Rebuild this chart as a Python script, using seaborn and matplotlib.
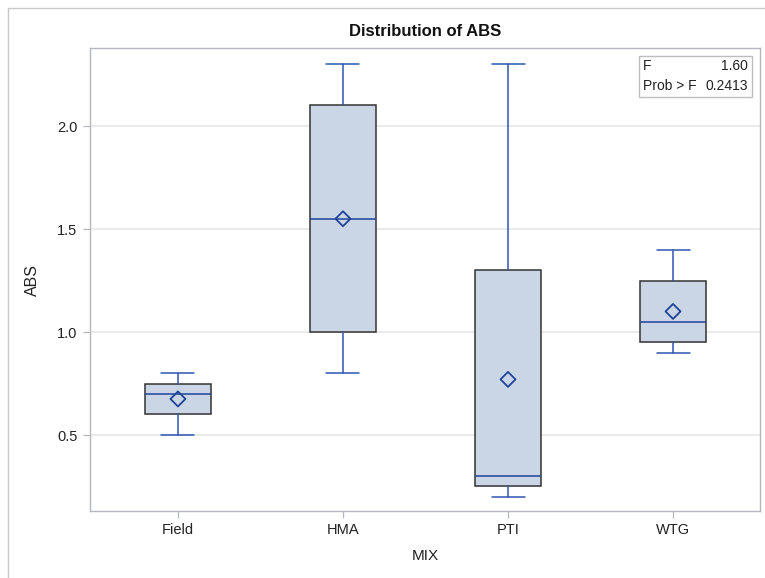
import matplotlib
matplotlib.use("Agg")
import matplotlib.pyplot as plt
from matplotlib.patches import Rectangle
from matplotlib.lines import Line2D
import seaborn as sns
import pandas as pd

# Summary statistics of ABS for each mixture
mix = ["Field", "HMA", "PTI", "WTG"]
abs_min = [0.50, 0.80, 0.20, 0.90]
abs_q1 = [0.60, 1.00, 0.25, 0.95]
abs_median = [0.70, 1.55, 0.30, 1.05]
abs_q3 = [0.75, 2.10, 1.30, 1.25]
abs_max = [0.80, 2.30, 2.30, 1.40]
abs_mean = [0.675, 1.55, 0.77, 1.10]

f_value = "1.60"
p_value = "0.2413"

sns.set_theme(style="whitegrid")
plt.rcParams["font.family"] = ["Liberation Sans", "DejaVu Sans"]

fill = "#CAD5E5"
edge = "#333333"
blue = "#2E56B0"
dark_blue = "#1F4399"
frame = "#B4B8BE"

fig = plt.figure(figsize=(7.65, 5.78), dpi=100)
ax = fig.add_axes([90 / 765, 67 / 578, 670 / 765, 463 / 578])

stats = [
    dict(label=m, whislo=lo, q1=q1, med=md, q3=q3, whishi=hi, fliers=[])
    for m, lo, q1, md, q3, hi in zip(mix, abs_min, abs_q1, abs_median, abs_q3, abs_max)
]
ax.bxp(
    stats,
    positions=range(len(mix)),
    widths=0.4,
    capwidths=0.2,
    showfliers=False,
    patch_artist=True,
    boxprops=dict(facecolor=fill, edgecolor=edge, linewidth=1.1),
    whiskerprops=dict(color=blue, linewidth=1.1),
    capprops=dict(color=blue, linewidth=1.1),
    medianprops=dict(color=dark_blue, linewidth=1.1),
    zorder=3,
)

means = pd.DataFrame({"MIX": mix, "ABS": abs_mean})
sns.scatterplot(
    data=means, x="MIX", y="ABS", ax=ax, marker="D", s=58,
    facecolor="none", edgecolor=dark_blue, linewidth=1.3, zorder=5,
)

ax.set_xlim(-0.533, 3.527)
ax.set_ylim(0.131, 2.379)
ax.set_xticks(range(len(mix)))
ax.set_xticklabels(mix)
ax.set_yticks([0.5, 1.0, 1.5, 2.0])
ax.set_yticklabels(["0.5", "1.0", "1.5", "2.0"])

ax.grid(False, axis="x")
ax.grid(True, axis="y", color="#E6E6E6", linewidth=1.2)
for s in ax.spines.values():
    s.set_visible(True)
    s.set_color(frame)
    s.set_linewidth(1.0)
ax.tick_params(axis="both", which="major", length=5, width=0.9, color=frame,
               labelsize=10.5, labelcolor="#222222", pad=4, left=True, bottom=True)

ax.set_xlabel("MIX", fontsize=11, color="#222222")
ax.set_ylabel("ABS", fontsize=11.5, color="#222222")
ax.xaxis.set_label_coords(0.5, -(556 - 511) / 463)
ax.xaxis.label.set_va("center")
ax.yaxis.set_label_coords((32 - 90) / 670, 0.5)
ax.yaxis.label.set_va("center")

fig.text(425 / 765, 1 - 32 / 578, "Distribution of ABS", ha="center", va="center",
         fontsize=12, fontweight="bold", color="#111111")

# ANOVA inset
x0, x1 = (639 - 90) / 670, (752 - 90) / 670
y0, y1 = 1 - (97 - 48) / 463, 1 - (56 - 48) / 463
ax.add_patch(Rectangle((x0, y0), x1 - x0, y1 - y0, transform=ax.transAxes,
                       facecolor="white", edgecolor="#BDBDBD", linewidth=1.0, zorder=6))
ty1, ty2 = 1 - (66 - 48) / 463, 1 - (86 - 48) / 463
tl, tr = (643 - 90) / 670, (748 - 90) / 670
for ty, left, right in [(ty1, "F", f_value), (ty2, "Prob > F", p_value)]:
    ax.text(tl, ty, left, transform=ax.transAxes, ha="left", va="center",
            fontsize=10, color="#222222", zorder=7)
    ax.text(tr, ty, right, transform=ax.transAxes, ha="right", va="center",
            fontsize=10, color="#222222", zorder=7)

# outer graph border
fig.add_artist(Line2D([8 / 765, 8 / 765], [0, 1 - 8 / 578], transform=fig.transFigure,
                      color="#C8C8C8", linewidth=1.0))
fig.add_artist(Line2D([8 / 765, 1], [1 - 8 / 578, 1 - 8 / 578], transform=fig.transFigure,
                      color="#C8C8C8", linewidth=1.0))

fig.savefig("out.png", dpi=100, facecolor="white")
